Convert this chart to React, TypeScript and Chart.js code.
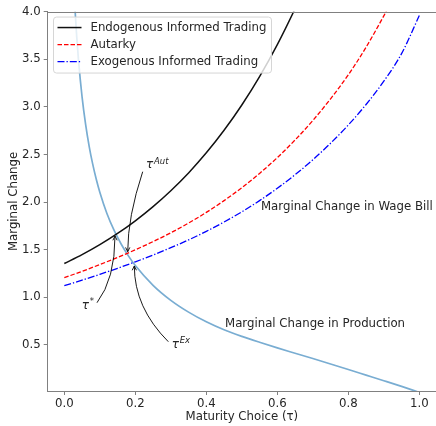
import React, { useEffect, useRef } from "react";
import { Chart, registerables } from "chart.js";

Chart.register(...registerables);

// ---- data ----
const endoTau = [0, 0.05, 0.1, 0.15, 0.2, 0.25, 0.3, 0.35, 0.4, 0.45, 0.5, 0.55, 0.6, 0.65, 0.67];
const endoValues = [1.355, 1.448, 1.553, 1.671, 1.804, 1.953, 2.12, 2.307, 2.518, 2.755, 3.021, 3.32, 3.656, 4.033, 4.197];

const autarkyTau = [0, 0.05, 0.1, 0.15, 0.2, 0.25, 0.3, 0.35, 0.4, 0.45, 0.5, 0.55, 0.6, 0.65, 0.7, 0.75, 0.8, 0.85, 0.9, 0.92];
const autarkyValues = [1.206, 1.273, 1.344, 1.419, 1.499, 1.585, 1.678, 1.78, 1.892, 2.016, 2.152, 2.302, 2.468, 2.653, 2.858, 3.086, 3.338, 3.628, 3.958, 4.098];

const exoTau = [0, 0.05, 0.1, 0.15, 0.2, 0.25, 0.3, 0.35, 0.4, 0.45, 0.5, 0.55, 0.6, 0.65, 0.7, 0.75, 0.8, 0.85, 0.9, 0.95, 1.0];
const exoValues = [1.122, 1.18, 1.241, 1.305, 1.373, 1.444, 1.521, 1.603, 1.693, 1.791, 1.898, 2.016, 2.146, 2.288, 2.445, 2.619, 2.811, 3.026, 3.271, 3.561, 3.961];

const prodTau = [0.025, 0.03, 0.035, 0.04, 0.05, 0.06, 0.07, 0.08, 0.09, 0.1, 0.12, 0.14, 0.16, 0.18, 0.2, 0.25, 0.3, 0.35, 0.4, 0.45, 0.5, 0.55, 0.6, 0.65, 0.7, 0.75, 0.8, 0.85, 0.9, 0.95, 1.0];
const prodValues = [4.41, 4.035, 3.735, 3.49, 3.107, 2.817, 2.587, 2.399, 2.24, 2.104, 1.881, 1.705, 1.56, 1.438, 1.334, 1.126, 0.968, 0.844, 0.742, 0.658, 0.589, 0.527, 0.468, 0.412, 0.356, 0.299, 0.241, 0.182, 0.123, 0.063, 0.0];

const seriesNames = ["Endogenous Informed Trading", "Autarky", "Exogenous Informed Trading", "Marginal Change in Production"];
const xTicks = [0, 0.2, 0.4, 0.6, 0.8, 1.0];
const yTicks = [0.5, 1.0, 1.5, 2.0, 2.5, 3.0, 3.5, 4.0];
const xTitle = "Maturity Choice (τ)";
const yTitle = "Marginal Change";
const wageLabel = "Marginal Change in Wage Bill";
const prodLabel = "Marginal Change in Production";

const FONT = '"DejaVu Sans", sans-serif';
const FS = 11.75;
const TEXT = "#262626";
const SPINE = "#808080";
const PROD_COLOR = "rgb(121,173,210)";

const pts = (xs: number[], ys: number[]) => xs.map((x, i) => ({ x, y: ys[i] }));

export default function App() {
  const ref = useRef<HTMLCanvasElement>(null);

  useEffect(() => {
    const canvas = ref.current!;
    const styles = [
      { color: "#111111", dash: [] as number[], width: 1.5 },
      { color: "#ff0000", dash: [4.5, 2], width: 1.3 },
      { color: "#0000ff", dash: [7, 2, 1.3, 2], width: 1.3 },
    ];

    const overlay = {
      id: "overlay",
      afterDatasetsDraw(chart: any) {
        const ctx = chart.ctx as CanvasRenderingContext2D;
        const xs = chart.scales.x;
        const ys = chart.scales.y;
        const px = (v: number) => xs.getPixelForValue(v);
        const py = (v: number) => ys.getPixelForValue(v);
        ctx.save();
        ctx.fillStyle = TEXT;
        ctx.font = `${FS}px ${FONT}`;
        ctx.textBaseline = "middle";
        ctx.textAlign = "left";
        ctx.fillText(wageLabel, px(0.554), py(1.949));
        ctx.fillText(prodLabel, px(0.4527), py(0.7194));

        // annotations: text anchor, arrow start, control, tip (data coords)
        const anns = [
          { sup: "Aut", t: [0.23, 2.354], s: [0.2208, 2.32], c: [0.1786, 1.844], e: [0.1786, 1.479] },
          { sup: "*", t: [0.049, 0.877], s: [0.0921, 0.943], c: [0.1428, 1.192], e: [0.1428, 1.644] },
          { sup: "Ex", t: [0.3025, 0.467], s: [0.293, 0.533], c: [0.1972, 0.891], e: [0.1972, 1.329] },
        ];
        for (const a of anns) {
          const tx = px(a.t[0]);
          const ty = py(a.t[1]);
          ctx.fillStyle = TEXT;
          ctx.textBaseline = "alphabetic";
          ctx.font = `italic 12px ${FONT}`;
          ctx.fillText("τ", tx, ty);
          const w = ctx.measureText("τ").width;
          ctx.font = a.sup === "*" ? `8.5px ${FONT}` : `italic 8.5px ${FONT}`;
          ctx.fillText(a.sup, tx + w + 0.8, ty - 4.5);

          const sx = px(a.s[0]), sy = py(a.s[1]);
          const cx = px(a.c[0]), cy = py(a.c[1]);
          const ex = px(a.e[0]), ey = py(a.e[1]);
          ctx.strokeStyle = "#000";
          ctx.lineWidth = 0.9;
          ctx.setLineDash([]);
          ctx.beginPath();
          ctx.moveTo(sx, sy);
          ctx.quadraticCurveTo(cx, cy, ex, ey);
          ctx.stroke();
          const ang = Math.atan2(ey - cy, ex - cx);
          const hl = 4.8, spread = 0.46;
          ctx.beginPath();
          ctx.moveTo(ex - hl * Math.cos(ang - spread), ey - hl * Math.sin(ang - spread));
          ctx.lineTo(ex, ey);
          ctx.lineTo(ex - hl * Math.cos(ang + spread), ey - hl * Math.sin(ang + spread));
          ctx.stroke();
        }
        ctx.restore();
      },
      afterDraw(chart: any) {
        const ctx = chart.ctx as CanvasRenderingContext2D;
        const area = chart.chartArea;
        ctx.save();
        // top spine
        ctx.strokeStyle = SPINE;
        ctx.lineWidth = 1;
        ctx.beginPath();
        ctx.moveTo(area.left, Math.round(area.top) + 0.5);
        ctx.lineTo(area.right, Math.round(area.top) + 0.5);
        ctx.stroke();

        // legend
        ctx.font = `${FS}px ${FONT}`;
        const textW = Math.max(...seriesNames.slice(0, 3).map((s) => ctx.measureText(s).width));
        const lx = area.left + 5.8;
        const ly = area.top + 5.2;
        const lw = 37 + textW + 5;
        const lh = 56;
        const r = 3;
        ctx.beginPath();
        ctx.moveTo(lx + r, ly);
        ctx.lineTo(lx + lw - r, ly);
        ctx.arcTo(lx + lw, ly, lx + lw, ly + r, r);
        ctx.lineTo(lx + lw, ly + lh - r);
        ctx.arcTo(lx + lw, ly + lh, lx + lw - r, ly + lh, r);
        ctx.lineTo(lx + r, ly + lh);
        ctx.arcTo(lx, ly + lh, lx, ly + lh - r, r);
        ctx.lineTo(lx, ly + r);
        ctx.arcTo(lx, ly, lx + r, ly, r);
        ctx.closePath();
        ctx.fillStyle = "rgba(255,255,255,0.8)";
        ctx.fill();
        ctx.strokeStyle = "#d6d6d6";
        ctx.lineWidth = 1;
        ctx.stroke();
        for (let i = 0; i < 3; i++) {
          const yy = ly + 10.5 + i * 17;
          const st = styles[i];
          ctx.strokeStyle = st.color;
          ctx.lineWidth = st.width;
          ctx.setLineDash(st.dash);
          ctx.beginPath();
          ctx.moveTo(lx + 4, yy);
          ctx.lineTo(lx + 28, yy);
          ctx.stroke();
          ctx.setLineDash([]);
          ctx.fillStyle = TEXT;
          ctx.textBaseline = "middle";
          ctx.textAlign = "left";
          ctx.fillText(seriesNames[i], lx + 37, yy + 0.5);
        }
        ctx.restore();
      },
    };

    const mk = (i: number, xs: number[], ys: number[]) => ({
      label: seriesNames[i],
      data: pts(xs, ys),
      borderColor: i < 3 ? styles[i].color : PROD_COLOR,
      borderWidth: i < 3 ? styles[i].width : 1.7,
      borderDash: i < 3 ? styles[i].dash : [],
      pointRadius: 0,
      cubicInterpolationMode: "monotone",
      clip: 0,
    });

    const chart = new Chart(canvas, {
      type: "line",
      data: {
        datasets: [
          mk(0, endoTau, endoValues),
          mk(1, autarkyTau, autarkyValues),
          mk(2, exoTau, exoValues),
          mk(3, prodTau, prodValues),
        ] as any,
      },
      options: {
        responsive: false,
        animation: false,
        devicePixelRatio: 1,
        layout: { padding: { left: 0, right: 0, top: 11.85, bottom: 0 } },
        plugins: { legend: { display: false }, tooltip: { enabled: false } },
        scales: {
          x: {
            type: "linear",
            min: -0.0468,
            max: 1.047,
            afterBuildTicks: (s: any) => { s.ticks = xTicks.map((v) => ({ value: v })); },
            afterFit: (s: any) => { s.height = 35; },
            grid: { display: true, drawOnChartArea: false, drawTicks: true, tickLength: 4, color: SPINE },
            border: { display: true, color: SPINE, width: 1 },
            ticks: {
              color: TEXT, font: { family: FONT, size: FS }, padding: 2, maxRotation: 0,
              callback: (v: any) => Number(v).toFixed(1),
            },
            title: { display: true, text: xTitle, color: TEXT, font: { family: FONT, size: FS }, padding: { top: 0, bottom: 1.5 } },
          },
          y: {
            type: "linear",
            min: 0.015,
            max: 4,
            afterBuildTicks: (s: any) => { s.ticks = yTicks.map((v) => ({ value: v })); },
            afterFit: (s: any) => { s.width = 47.7; },
            grid: { display: true, drawOnChartArea: false, drawTicks: true, tickLength: 4, color: SPINE },
            border: { display: true, color: SPINE, width: 1 },
            ticks: {
              color: TEXT, font: { family: FONT, size: FS }, padding: 3,
              callback: (v: any) => Number(v).toFixed(1),
            },
            title: { display: true, text: yTitle, color: TEXT, font: { family: FONT, size: FS }, padding: { top: 6.8, bottom: 0 } },
          },
        },
      } as any,
      plugins: [overlay],
    });
    return () => chart.destroy();
  }, []);

  return (
    <div style={{ position: "fixed", left: 0, top: 0, width: 436, height: 426, background: "#fff" }}>
      <canvas ref={ref} width={436} height={426} style={{ display: "block", width: 436, height: 426 }} />
    </div>
  );
}
